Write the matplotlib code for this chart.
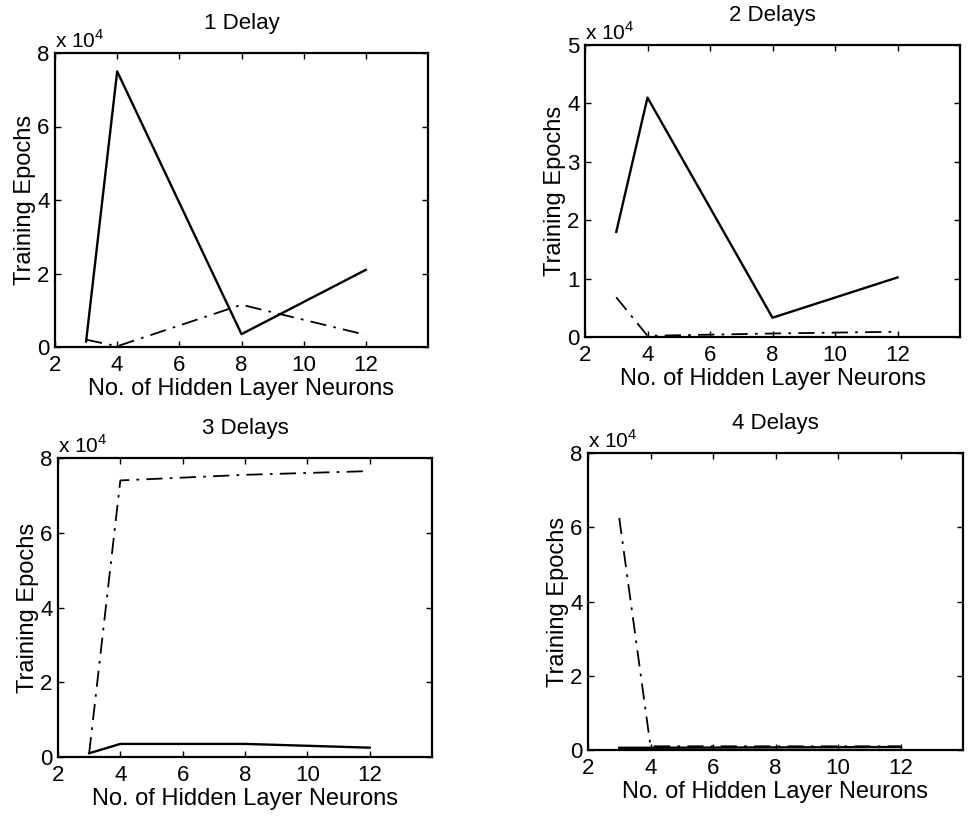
import matplotlib
matplotlib.use("Agg")
import matplotlib.pyplot as plt
from matplotlib.ticker import FuncFormatter

plt.rcParams['font.family'] = ['Liberation Sans', 'DejaVu Sans']
plt.rcParams['mathtext.fontset'] = 'custom'
plt.rcParams['mathtext.rm'] = 'Liberation Sans'

neurons = [3, 4, 8, 12]

titles = ["1 Delay", "2 Delays", "3 Delays", "4 Delays"]

# training epochs, solid curve
solid_epochs = [
    [1500, 75000, 3500, 21000],
    [18000, 41000, 3300, 10200],
    [1000, 3500, 3500, 2500],
    [600, 600, 700, 800],
]
# training epochs, dash-dot curve
dashdot_epochs = [
    [2000, 200, 11500, 3300],
    [6800, 200, 600, 900],
    [1000, 74000, 75500, 76500],
    [62500, 1000, 1000, 1000],
]

y_max = [80000, 50000, 80000, 80000]
y_step = [20000, 10000, 20000, 20000]
x_ticks = [2, 4, 6, 8, 10, 12]

# axes boxes in figure pixels: left, right, top, bottom
W, H = 971, 825
boxes = [
    (55, 428, 53, 347),
    (585, 960, 45, 337),
    (58, 432, 458, 757),
    (588, 963, 453, 750),
]

fig = plt.figure(figsize=(W / 100, H / 100), dpi=100)
tick_fs = 16
label_fs = 17

for i in range(4):
    l, r, t, b = boxes[i]
    ax = fig.add_axes([l / W, 1 - b / H, (r - l) / W, (b - t) / H])
    ax.plot(neurons, solid_epochs[i], color='black', lw=1.7, ls='-')
    ax.plot(neurons, dashdot_epochs[i], color='black', lw=1.3,
            ls=(0, (9, 4, 1.5, 4)))
    ax.set_xlim(2, 14)
    ax.set_ylim(0, y_max[i])
    ax.set_xticks(x_ticks)
    ax.set_yticks(list(range(0, y_max[i] + 1, y_step[i])))
    ax.yaxis.set_major_formatter(FuncFormatter(lambda v, p: f"{v / 1e4:g}"))
    ax.tick_params(direction='in', top=True, right=True, length=4,
                   width=1, labelsize=tick_fs)
    ax.tick_params(axis='x', pad=6)
    ax.tick_params(axis='y', pad=4)
    for s in ax.spines.values():
        s.set_linewidth(1.6)
    ax.set_title(titles[i], fontsize=tick_fs, pad=17)
    ax.set_xlabel("No. of Hidden Layer Neurons", fontsize=label_fs, labelpad=1)
    ax.set_ylabel("Training Epochs", fontsize=label_fs, labelpad=1)
    ax.text(0.0, 1.005, r"x 10$^{4}$", transform=ax.transAxes,
            fontsize=tick_fs - 1, ha='left', va='bottom')

fig.savefig("out.png", dpi=100, facecolor='white')
